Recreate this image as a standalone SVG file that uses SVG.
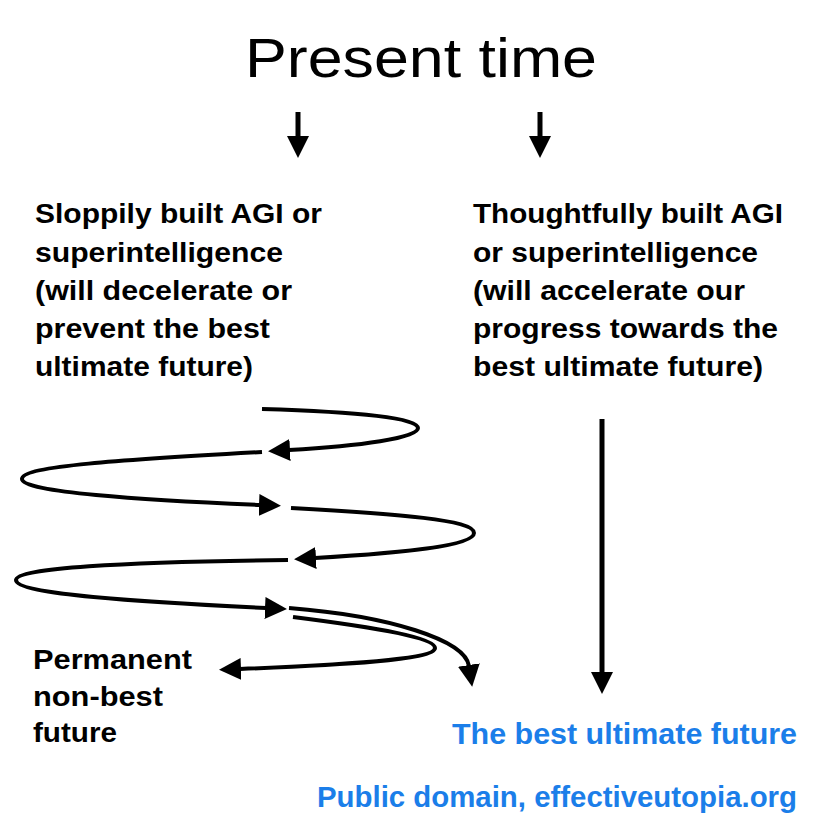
<svg xmlns="http://www.w3.org/2000/svg" width="828" height="828" viewBox="0 0 828 828">
<defs>
<style>
.t{font-family:"Liberation Sans",Arial,Helvetica,sans-serif;font-weight:bold;font-size:28px;fill:#000}
.b{font-family:"Liberation Sans",Arial,Helvetica,sans-serif;font-weight:bold;font-size:29px;fill:#1b7ee9}
.h{font-family:"Liberation Sans",Arial,Helvetica,sans-serif;font-size:56px;fill:#000}
.c{fill:none;stroke:#000;stroke-width:4;stroke-linecap:butt}
.s{fill:none;stroke:#000;stroke-width:5}
</style>
<marker id="ah" markerUnits="userSpaceOnUse" viewBox="0 -11 22 22" markerWidth="22" markerHeight="22" refX="1" refY="0" orient="auto">
<path d="M0,-11 L22,0 L0,11 z" fill="#000"/>
</marker>
</defs>
<rect width="828" height="828" fill="#fff"/>
<g id="present">
<text class="h" x="245" y="77" textLength="352" lengthAdjust="spacingAndGlyphs">Present time</text>
</g>
<g id="sloppy">
<text class="t" x="35" y="223" textLength="287" lengthAdjust="spacingAndGlyphs">Sloppily built AGI or</text>
<text class="t" x="35" y="262" textLength="248" lengthAdjust="spacingAndGlyphs">superintelligence</text>
<text class="t" x="35" y="300" textLength="257" lengthAdjust="spacingAndGlyphs">(will decelerate or</text>
<text class="t" x="35" y="338" textLength="235" lengthAdjust="spacingAndGlyphs">prevent the best</text>
<text class="t" x="35" y="376" textLength="218" lengthAdjust="spacingAndGlyphs">ultimate future)</text>
</g>
<g id="thoughtful">
<text class="t" x="473" y="223" textLength="310" lengthAdjust="spacingAndGlyphs">Thoughtfully built AGI</text>
<text class="t" x="473" y="262" textLength="285" lengthAdjust="spacingAndGlyphs">or superintelligence</text>
<text class="t" x="473" y="300" textLength="272" lengthAdjust="spacingAndGlyphs">(will accelerate our</text>
<text class="t" x="473" y="338" textLength="305" lengthAdjust="spacingAndGlyphs">progress towards the</text>
<text class="t" x="473" y="376" textLength="290" lengthAdjust="spacingAndGlyphs">best ultimate future)</text>
</g>
<g id="permanent">
<text class="t" x="33" y="669" textLength="159" lengthAdjust="spacingAndGlyphs">Permanent</text>
<text class="t" x="33" y="706" textLength="130" lengthAdjust="spacingAndGlyphs">non-best</text>
<text class="t" x="33" y="742" textLength="84" lengthAdjust="spacingAndGlyphs">future</text>
</g>
<g id="best">
<text class="b" x="452" y="744" textLength="345" lengthAdjust="spacingAndGlyphs">The best ultimate future</text>
</g>
<g id="credit">
<text class="b" x="317" y="807" textLength="480" lengthAdjust="spacingAndGlyphs">Public domain, effectiveutopia.org</text>
</g>
<g id="connectors">
<line class="s" x1="298" y1="112" x2="298" y2="137" marker-end="url(#ah)"/>
<line class="s" x1="540" y1="112" x2="540" y2="137" marker-end="url(#ah)"/>
<line class="s" x1="602" y1="419" x2="602" y2="673" marker-end="url(#ah)"/>
<path class="c" d="M262,409 C360,412 418,418 418,428 C418,438 360,446 289,450" marker-end="url(#ah)"/>
<path class="c" d="M262,452 C120,460 22,466 22,479 C22,492 140,500 260,505" marker-end="url(#ah)"/>
<path class="c" d="M291,508 C400,514 474,520 474,533 C474,546 400,553 315,558" marker-end="url(#ah)"/>
<path class="c" d="M288,560 C120,562 16,568 16,580 C16,594 140,602 266,608" marker-end="url(#ah)"/>
<path class="c" d="M289,608 C390,616 465,640 469,666" marker-end="url(#ah)"/>
<path class="c" d="M293,617 C380,628 435,638 435,648 C435,660 340,665 240,669" marker-end="url(#ah)"/>
</g>
</svg>
